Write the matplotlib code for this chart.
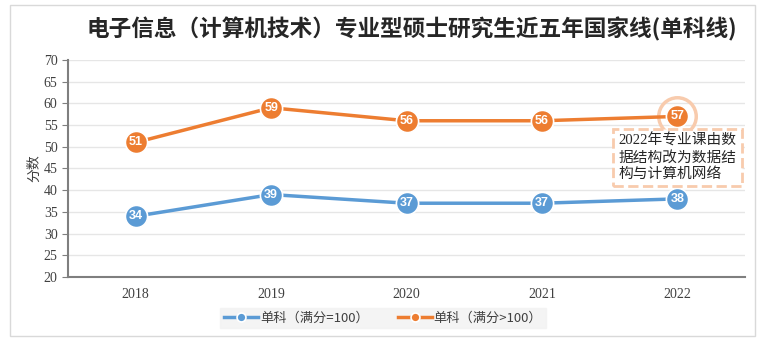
import matplotlib.pyplot as plt
from matplotlib.patches import Rectangle

plt.rcParams['font.family'] = ['Liberation Serif', 'Noto Sans CJK SC']

years = ['2018', '2019', '2020', '2021', '2022']
score_100 = [34, 39, 37, 37, 38]
score_over100 = [51, 59, 56, 56, 57]
label_100 = '单科（满分=100）'
label_over100 = '单科（满分>100）'
title = '电子信息（计算机技术）专业型硕士研究生近五年国家线(单科线)'
note = '2022年专业课由数\n据结构改为数据结\n构与计算机网络'

blue = '#5B9BD5'
orange = '#ED7D31'

fig = plt.figure(figsize=(7.69, 3.43), dpi=100)
# outer frame
fig.patches.append(Rectangle((0.013, 0.02), 0.969, 0.965, transform=fig.transFigure,
                             fill=False, edgecolor='#d9d9d9', linewidth=1))
ax = fig.add_axes([68/769, 1 - 277/343, (745-68)/769, (277-60)/343])

x = list(range(len(years)))
ax.plot(x, score_100, color=blue, linewidth=2.5, marker='o', markersize=16,
        markerfacecolor=blue, markeredgecolor='white', markeredgewidth=1.2,
        label=label_100, zorder=3)
ax.plot(x, score_over100, color=orange, linewidth=2.5, marker='o', markersize=16,
        markerfacecolor=orange, markeredgecolor='white', markeredgewidth=1.2,
        label=label_over100, zorder=3)
for xi, v in zip(x, score_100):
    ax.text(xi, v, str(v), ha='center', va='center', color='white', fontsize=9,
            fontweight='bold', family=['Liberation Sans'], zorder=4)
for xi, v in zip(x, score_over100):
    ax.text(xi, v, str(v), ha='center', va='center', color='white', fontsize=9,
            fontweight='bold', family=['Liberation Sans'], zorder=4)

# highlight ring on 2022
ax.plot([4], [score_over100[4]], marker='o', markersize=27, markerfacecolor='none',
        markeredgecolor='#F8CBAD', markeredgewidth=2.5, zorder=2)

ax.text(0.813, 0.66, note, transform=ax.transAxes, fontsize=10.6, va='top', ha='left',
        color='#262626', linespacing=1.25, family=['Liberation Serif', 'Noto Sans CJK SC'],
        bbox=dict(boxstyle='square,pad=0.35', facecolor='white', edgecolor='#F8CBAD',
                  linestyle='--', linewidth=2))

ax.set_xlim(-0.5, 4.5)
ax.set_ylim(20, 70)
ax.set_yticks(range(20, 71, 5))
ax.set_xticks(x)
ax.set_xticklabels(years)
ax.tick_params(axis='y', direction='out', length=4, color='#7f7f7f', labelsize=10,
               labelcolor='#404040')
ax.tick_params(axis='x', length=0, labelsize=10, labelcolor='#404040', pad=8)
ax.grid(axis='y', color='#e6e6e6', linewidth=1)
ax.set_axisbelow(True)
for s in ['top', 'right']:
    ax.spines[s].set_visible(False)
ax.spines['left'].set_color('#7f7f7f')
ax.spines['bottom'].set_color('#7f7f7f')
ax.spines['left'].set_linewidth(1.5)
ax.spines['bottom'].set_linewidth(1.5)
ax.set_ylabel('分数', fontsize=10, family=['Noto Sans CJK SC'], color='#404040', labelpad=2)

fig.text(0.535, 0.915, title, ha='center', va='center', fontsize=16.3, fontweight='semibold',
         family=['Noto Sans CJK SC'], color='#262626')

leg = fig.legend(loc='center', bbox_to_anchor=(383/769, 1 - 318/343), ncol=2, frameon=True,
                 prop={'family': ['Noto Sans CJK SC'], 'size': 9.5}, handlelength=2.6,
                 handletextpad=0.1, columnspacing=2.2, borderpad=0.3, fancybox=False,
                 markerscale=0.4)
leg.get_frame().set_facecolor('#f2f2f2')
leg.get_frame().set_edgecolor('#f2f2f2')
for t in leg.get_texts():
    t.set_color('#404040')

fig.savefig('out.png', dpi=100)
